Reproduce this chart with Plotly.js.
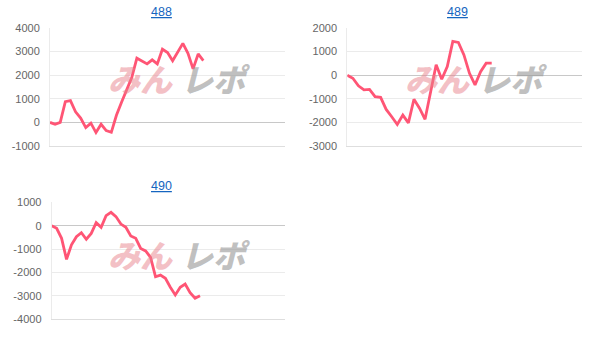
<!DOCTYPE html>
<html>
<head>
<meta charset="utf-8">
<script src="https://cdn.plot.ly/plotly-3.0.1.min.js"></script>
<style>html,body{margin:0;padding:0;background:#fff;}#chart{width:607px;height:350px;}</style>
</head>
<body>
<div id="chart"></div>
<script>
// ---- data ----
const titles = ["488", "489", "490"];
const values488 = [0, -80, 0, 880, 920, 450, 180, -220, -30, -430, -80, -350, -420, 300, 850, 1350, 1900, 2720, 2600, 2480, 2650, 2480, 3100, 2960, 2610, 2980, 3350, 2930, 2270, 2900, 2620];
const values489 = [0, -130, -450, -620, -600, -910, -940, -1450, -1760, -2090, -1690, -2020, -1020, -1400, -1870, -740, 440, -170, 370, 1430, 1390, 860, 80, -410, 150, 510, 510];
const values490 = [0, -110, -540, -1440, -820, -470, -300, -580, -330, 130, -70, 430, 570, 390, 70, -70, -440, -540, -970, -1080, -1350, -2180, -2110, -2250, -2630, -2960, -2630, -2490, -2860, -3100, -2990];
const yTicks488 = [-1000, 0, 1000, 2000, 3000, 4000];
const yTicks489 = [-3000, -2000, -1000, 0, 1000, 2000];
const yTicks490 = [-4000, -3000, -2000, -1000, 0, 1000];
const watermarkA = "みん";
const watermarkB = "レポ";

const W = 607, H = 350;
const px = v => v / W;
const py = v => 1 - v / H;
const series = [values488, values489, values490];
const idx = arr => arr.map((_, i) => i);

const lineColor = '#ff5575';
const traces = series.map((vals, k) => ({
  x: idx(vals), y: vals, type: 'scatter', mode: 'lines',
  xaxis: k === 0 ? 'x' : 'x' + (k + 1), yaxis: k === 0 ? 'y' : 'y' + (k + 1),
  line: {color: lineColor, width: 2.8, shape: 'linear'},
  hoverinfo: 'none', showlegend: false
}));

// panel geometry in pixels
const panels = [
  {x0: 50, x1: 285, y0: 28, y1: 146, xr: [0, 30 * 235 / 153.3], yr: [-1000, 4000], ticks: yTicks488, tx: 161, ty: 12, wx: 140, wy: 78},
  {x0: 347.3, x1: 581.7, y0: 28, y1: 146, xr: [0, 26 * 234.4 / 144.4], yr: [-3000, 2000], ticks: yTicks489, tx: 457.7, ty: 12, wx: 437, wy: 78},
  {x0: 51.7, x1: 285, y0: 202.3, y1: 319.3, xr: [0, 30 * 233.3 / 148.3], yr: [-4000, 1000], ticks: yTicks490, tx: 161.7, ty: 186, wx: 140, wy: 254}
];

const layout = {
  width: W, height: H,
  margin: {l: 0, r: 0, t: 0, b: 0},
  paper_bgcolor: '#fff', plot_bgcolor: 'rgba(0,0,0,0)',
  font: {family: 'Liberation Sans, Arial, sans-serif', size: 11, color: '#666'},
  annotations: [], showlegend: false
};

panels.forEach((p, k) => {
  const xn = k === 0 ? 'xaxis' : 'xaxis' + (k + 1);
  const yn = k === 0 ? 'yaxis' : 'yaxis' + (k + 1);
  const xa = k === 0 ? 'x' : 'x' + (k + 1);
  layout[xn] = {
    domain: [px(p.x0), px(p.x1)], range: p.xr, anchor: k === 0 ? 'y' : 'y' + (k + 1),
    showgrid: false, zeroline: false, showticklabels: false, ticks: '',
    showline: true, linecolor: '#dedede', linewidth: 1, fixedrange: true
  };
  layout[yn] = {
    domain: [py(p.y1), py(p.y0)], range: p.yr, anchor: xa,
    tickvals: p.ticks, ticktext: p.ticks.map(String),
    showgrid: true, gridcolor: '#ebebeb', gridwidth: 1,
    zeroline: true, zerolinecolor: '#c8c8c8', zerolinewidth: 1,
    showline: true, linecolor: '#ebebeb', linewidth: 1,
    ticks: 'outside', ticklen: 7, tickcolor: 'rgba(0,0,0,0)',
    tickfont: {family: 'Liberation Sans, Arial, sans-serif', size: 11, color: '#666'},
    fixedrange: true
  };
  layout.annotations.push({
    xref: 'paper', yref: 'paper', x: px(p.tx), y: py(p.ty), xanchor: 'center', yanchor: 'middle',
    text: '<u>' + titles[k] + '</u>', showarrow: false,
    font: {family: 'Liberation Sans, Arial, sans-serif', size: 12.5, color: '#1565c0'}
  });
  layout.annotations.push({
    xref: 'paper', yref: 'paper', x: px(p.wx), y: py(p.wy), xanchor: 'center', yanchor: 'middle',
    text: watermarkA, showarrow: false,
    font: {family: 'Noto Sans CJK JP, sans-serif', size: 32, weight: 900, style: 'italic', color: 'rgba(232,130,140,0.5)'}
  });
  layout.annotations.push({
    xref: 'paper', yref: 'paper', x: px(p.wx + 76), y: py(p.wy), xanchor: 'center', yanchor: 'middle',
    text: watermarkB, showarrow: false,
    font: {family: 'Noto Sans CJK JP, sans-serif', size: 32, weight: 900, style: 'italic', color: 'rgba(150,150,150,0.6)'}
  });
});

Plotly.newPlot('chart', traces, layout, {displayModeBar: false, staticPlot: true});
</script>
</body>
</html>
